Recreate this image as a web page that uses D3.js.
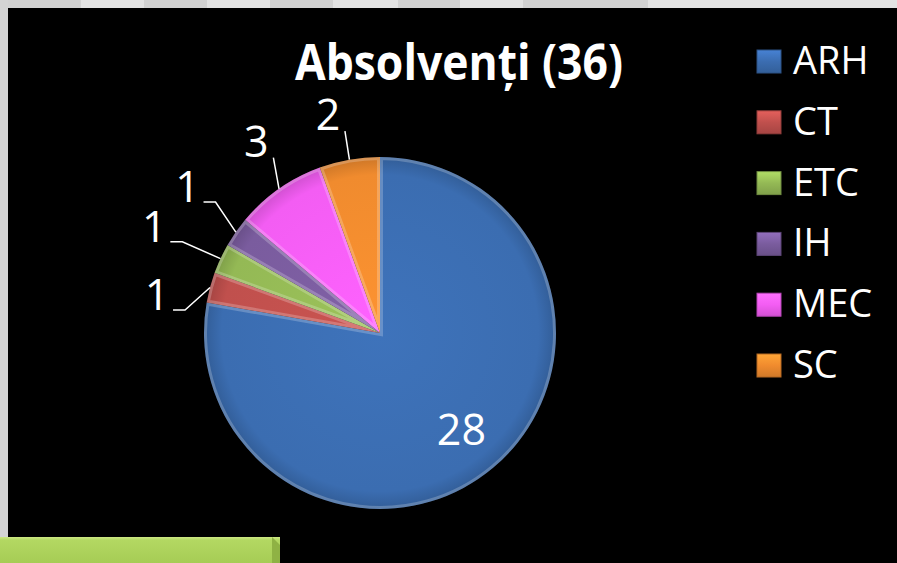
<!DOCTYPE html>
<html>
<head>
<meta charset="utf-8">
<script src="https://cdn.jsdelivr.net/npm/d3@7"></script>
<style>
  body { margin: 0; background: #000; overflow: hidden; }
  text { font-family: "Open Sans", "DejaVu Sans", sans-serif; fill: #fff; }
</style>
</head>
<body>
<svg id="chart" width="897" height="563"></svg>
<script>
// date
const titlu = "Absolvenți (36)";
const specializari = ["ARH", "CT", "ETC", "IH", "MEC", "SC"];
const absolventi = [28, 1, 1, 1, 3, 2];
const culori = ["#3b6db1", "#c0504d", "#94b955", "#7a5c9e", "#f35df3", "#f08b2e"];

// decor: benzi gri sus (margini de dale)
const dale = [0, 81, 144, 207, 270, 333, 398, 460, 523, 648, 897];

// asezarea etichetelor (decalaj unghi in grade, distanta de la centru)
const etUnghi = [0, -5.6, 0, 2, 2, -3.5];
const etDist = [0, 226, 249, 241, 227, 223];

let svg = d3.select("#chart");
let defs = svg.append("defs");

// fundal
svg.append("rect").attr("width", 897).attr("height", 563).attr("fill", "#000");
svg.selectAll("rect.dala")
    .data(d3.pairs(dale))
    .enter().append("rect")
    .attr("class", "dala")
    .attr("x", d => d[0]).attr("y", 0)
    .attr("width", d => d[1] - d[0]).attr("height", 8)
    .attr("fill", (d, i) => i % 2 ? "#e3e3e3" : "#d2d2d2");
svg.append("rect").attr("x", 0).attr("y", 0).attr("width", 8).attr("height", 537).attr("fill", "#d4d4d4");

// bara verde jos
let gBar = defs.append("linearGradient").attr("id", "gbar").attr("x1", 0).attr("y1", 0).attr("x2", 0).attr("y2", 1);
gBar.append("stop").attr("offset", "0").attr("stop-color", "#cde884");
gBar.append("stop").attr("offset", "0.12").attr("stop-color", "#b3d862");
gBar.append("stop").attr("offset", "1").attr("stop-color", "#a6cc55");
svg.append("rect").attr("x", 0).attr("y", 537).attr("width", 280).attr("height", 26).attr("fill", "url(#gbar)");
svg.append("path").attr("d", "M272,537 L280,545 L280,563 L272,563 Z").attr("fill", "#8fb244");

// titlu
svg.append("text")
    .attr("x", 459).attr("y", 80)
    .attr("text-anchor", "middle")
    .attr("font-size", 50).attr("font-weight", "bold")
    .attr("textLength", 328).attr("lengthAdjust", "spacingAndGlyphs")
    .text(titlu);

// placinta
const cx = 380, cy = 333, raza = 176;
let date = specializari.map((s, i) => ({nume: s, val: absolventi[i], culoare: culori[i], idx: i}));
let pie = d3.pie().sort(null).value(d => d.val);
let arc = d3.arc().innerRadius(0).outerRadius(raza);
let felii = pie(date);

let gPie = svg.append("g").attr("transform", `translate(${cx},${cy})`);

felii.forEach((f, i) => {
    let c = d3.color(f.data.culoare);
    let g = defs.append("radialGradient").attr("id", "gf" + i)
        .attr("gradientUnits", "userSpaceOnUse").attr("cx", 0).attr("cy", 0).attr("r", raza);
    g.append("stop").attr("offset", "0").attr("stop-color", c.brighter(0.15));
    g.append("stop").attr("offset", "0.9").attr("stop-color", c);
    g.append("stop").attr("offset", "1").attr("stop-color", c.darker(0.45));
    defs.append("clipPath").attr("id", "cf" + i).append("path").attr("d", arc(f));
});

gPie.selectAll("path.felie")
    .data(felii)
    .enter().append("path")
    .attr("class", "felie")
    .attr("d", arc)
    .attr("fill", (d, i) => `url(#gf${i})`);

// bizou luminos pe margini
gPie.selectAll("path.bizou")
    .data(felii)
    .enter().append("path")
    .attr("class", "bizou")
    .attr("d", arc)
    .attr("fill", "none")
    .attr("stroke", "#fff")
    .attr("stroke-opacity", 0.22)
    .attr("stroke-width", 6)
    .attr("clip-path", (d, i) => `url(#cf${i})`);

// eticheta interioara
let arcEt = d3.arc().innerRadius(raza * 0.72).outerRadius(raza * 0.72);
felii.filter(f => f.data.idx === 0).forEach(f => {
    let p = arcEt.centroid(f);
    gPie.append("text")
        .attr("x", p[0]).attr("y", p[1] + 15)
        .attr("text-anchor", "middle")
        .attr("font-size", 43)
        .text(f.data.val);
});

// etichete exterioare cu linii de legatura
felii.filter(f => f.data.idx > 0).forEach(f => {
    let i = f.data.idx;
    let mid = (f.startAngle + f.endAngle) / 2;
    let a = mid + etUnghi[i] * Math.PI / 180;
    let lx = Math.sin(a) * etDist[i], ly = -Math.cos(a) * etDist[i];
    let rx = Math.sin(mid) * raza, ry = -Math.cos(mid) * raza;
    let baza = ly + 14;
    gPie.append("text")
        .attr("x", lx).attr("y", baza)
        .attr("text-anchor", "middle")
        .attr("font-size", 43)
        .text(f.data.val);
    let pts;
    if (Math.abs(lx) > Math.abs(ly)) {
        pts = [[lx + 16, baza], [lx + 28, baza], [rx, ry]];
    } else {
        pts = [[lx + 17, baza + 1], [rx, ry]];
    }
    gPie.append("path")
        .attr("d", d3.line()(pts))
        .attr("fill", "none")
        .attr("stroke", "#fff")
        .attr("stroke-width", 1.5);
});

// legenda
let leg = svg.append("g").attr("transform", "translate(757,50)");
date.forEach((d, i) => {
    let c = d3.color(d.culoare);
    let g = defs.append("linearGradient").attr("id", "gl" + i).attr("x1", 0).attr("y1", 0).attr("x2", 0).attr("y2", 1);
    g.append("stop").attr("offset", "0").attr("stop-color", c.brighter(0.5));
    g.append("stop").attr("offset", "0.5").attr("stop-color", c);
    g.append("stop").attr("offset", "1").attr("stop-color", c.darker(0.4));
    let r = leg.append("g").attr("transform", `translate(0,${i * 60.8})`);
    r.append("rect").attr("width", 24).attr("height", 23)
        .attr("fill", `url(#gl${i})`)
        .attr("stroke", c.darker(0.8)).attr("stroke-width", 1);
    r.append("text").attr("x", 36).attr("y", 24)
        .attr("font-size", 38)
        .text(d.nume);
});
</script>
</body>
</html>
